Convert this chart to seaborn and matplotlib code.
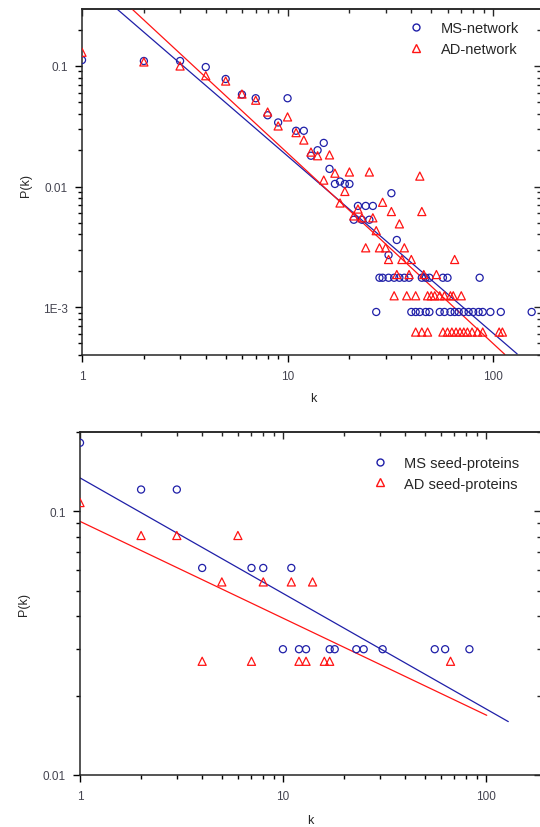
import matplotlib
matplotlib.use("Agg")
import matplotlib.pyplot as plt
import matplotlib.ticker as mticker
from matplotlib.lines import Line2D
import numpy as np
import seaborn as sns

# --- top panel: whole networks --------------------------------------------
ms_net_k = [1, 2, 3, 4, 5, 6, 7, 8, 9, 10, 11, 12, 13, 14, 15, 16, 17, 18, 19, 20,
            21, 22, 23, 24, 25, 26, 31, 32, 34,
            28, 29, 31, 33, 35, 37, 39, 45, 47, 49, 57, 60, 86,
            27, 40, 42, 44, 47, 49, 55, 58, 62, 65, 68, 72, 76, 80, 85, 89, 97, 109, 154]
ms_net_p = [0.112, 0.110, 0.110, 0.098, 0.078, 0.058, 0.054, 0.039, 0.034, 0.054,
            0.029, 0.029, 0.018, 0.020, 0.023, 0.014, 0.0105, 0.011, 0.0105, 0.0105,
            0.0053, 0.0069, 0.0053, 0.0069, 0.0053, 0.0069, 0.0027, 0.0088, 0.0036,
            0.00175, 0.00175, 0.00175, 0.00175, 0.00175, 0.00175, 0.00175, 0.00175,
            0.00175, 0.00175, 0.00175, 0.00175, 0.00175,
            0.00091, 0.00091, 0.00091, 0.00091, 0.00091, 0.00091, 0.00091, 0.00091,
            0.00091, 0.00091, 0.00091, 0.00091, 0.00091, 0.00091, 0.00091, 0.00091,
            0.00091, 0.00091, 0.00091]

ad_net_k = [1, 2, 3, 4, 5, 6, 7, 8, 9, 10, 11, 12, 13, 14, 15, 16, 17, 18, 19, 20,
            21, 22, 23, 25, 26, 27, 29, 32, 35, 44, 45,
            24, 28, 30, 37,
            31, 36, 40, 65,
            34, 39, 46, 53,
            33, 38, 42, 48, 50, 52, 55, 58, 62, 64, 70,
            42, 45, 48, 57, 60, 63, 66, 69, 72, 75, 79, 84, 89, 107, 111]
ad_net_p = [0.13, 0.108, 0.100, 0.083, 0.075, 0.0585, 0.052, 0.0415, 0.0318, 0.0378,
            0.028, 0.0243, 0.0193, 0.018, 0.0113, 0.0183, 0.0129, 0.0073, 0.0091, 0.0132,
            0.0057, 0.0065, 0.0055, 0.0132, 0.0055, 0.0043, 0.0074, 0.0062, 0.0049,
            0.0122, 0.0062,
            0.0031, 0.0031, 0.0031, 0.0031,
            0.00248, 0.00248, 0.00248, 0.00248,
            0.00186, 0.00186, 0.00186, 0.00186,
            0.00124, 0.00124, 0.00124, 0.00124, 0.00124, 0.00124, 0.00124, 0.00124,
            0.00124, 0.00124, 0.00124,
            0.00062, 0.00062, 0.00062, 0.00062, 0.00062, 0.00062, 0.00062, 0.00062,
            0.00062, 0.00062, 0.00062, 0.00062, 0.00062, 0.00062, 0.00062]

# power-law fits, log10(P) = a + b*log10(k), and the k span of each fit line
ms_net_fit = (-0.277, -1.47)
ad_net_fit = (-0.143, -1.58)
ms_net_span = (1, 131)
ad_net_span = (1, 114)

# --- bottom panel: seed proteins ------------------------------------------
ms_seed_k = [1, 2, 3, 4, 7, 8, 11, 10, 12, 13, 17, 18, 23, 25, 31, 56, 63, 83]
ms_seed_p = [0.182, 0.121, 0.121, 0.061, 0.061, 0.061, 0.061,
             0.030, 0.030, 0.030, 0.030, 0.030, 0.030, 0.030, 0.030, 0.030, 0.030, 0.030]

ad_seed_k = [1, 2, 3, 6, 5, 8, 11, 14, 4, 7, 12, 13, 16, 17, 67]
ad_seed_p = [0.108, 0.081, 0.081, 0.081, 0.054, 0.054, 0.054, 0.054,
             0.027, 0.027, 0.027, 0.027, 0.027, 0.027, 0.027]

ms_seed_fit = (-0.873, -0.438)
ad_seed_fit = (-1.038, -0.367)
ms_seed_span = (1, 129)
ad_seed_span = (1, 101)

x_labels = {1: "1", 10: "10", 100: "100"}
y_labels = {0.1: "0.1", 0.01: "0.01", 0.001: "1E-3"}

BLUE = "#1f1fa8"
RED = "#ff1414"
TICK_COLOR = "#444450"

sns.set_theme(style="ticks")
plt.rcParams["font.family"] = ["Liberation Sans", "DejaVu Sans"]
plt.rcParams["axes.linewidth"] = 1.1


def fmt(mapping):
    def f(v, pos):
        for key, lab in mapping.items():
            if np.isclose(v, key):
                return lab
        return ""
    return mticker.FuncFormatter(f)


def fit_line(ax, fit, span, color):
    a, b = fit
    kk = np.array(span, dtype=float)
    pp = 10 ** (a + b * np.log10(kk))
    sns.lineplot(x=kk, y=pp, ax=ax, color=color, lw=0.9, sort=False,
                 estimator=None)


def log_locators(axis):
    axis.set_major_locator(mticker.LogLocator(base=10, subs=(1.0,)))
    axis.set_minor_locator(mticker.LogLocator(base=10, subs=np.arange(2, 10)))
    axis.set_minor_formatter(mticker.NullFormatter())


def style_axes(ax, xlim, ylim):
    ax.set_xscale("log")
    ax.set_yscale("log")
    ax.set_xlim(*xlim)
    ax.set_ylim(*ylim)
    log_locators(ax.xaxis)
    log_locators(ax.yaxis)
    ax.xaxis.set_major_formatter(fmt(x_labels))
    ax.yaxis.set_major_formatter(fmt(y_labels))
    ax.tick_params(which="both", direction="out", top=False, right=False,
                   colors="black", labelcolor=TICK_COLOR, labelsize=8.5, width=1.0)
    ax.tick_params(which="major", length=5)
    ax.tick_params(which="minor", length=3)
    ax.tick_params(axis="x", pad=6)
    ax.tick_params(axis="y", pad=5)
    for side in ("top", "right"):
        ax.spines[side].set_visible(True)
    # inward ticks on the top and right frame
    sx = ax.secondary_xaxis("top")
    sx.tick_params(which="both", direction="in", labeltop=False, width=1.0)
    sx.tick_params(which="major", length=5)
    sx.tick_params(which="minor", length=3)
    log_locators(sx.xaxis)
    sy = ax.secondary_yaxis("right")
    sy.tick_params(which="both", direction="in", labelright=False, width=1.0)
    sy.tick_params(which="major", length=5)
    sy.tick_params(which="minor", length=3)
    log_locators(sy.yaxis)
    ax.set_xlabel("k", fontsize=9)
    ax.set_ylabel("P(k)", fontsize=9)


def add_legend(ax, labels, anchor):
    handles = [
        Line2D([], [], ls="", marker="o", ms=5, mfc="none", mec=BLUE, mew=1.0),
        Line2D([], [], ls="", marker="^", ms=5.5, mfc="none", mec=RED, mew=1.0),
    ]
    ax.legend(handles, labels, loc="upper left", bbox_to_anchor=anchor,
              frameon=False, fontsize=10.5, handlelength=1.0, handletextpad=1.2,
              labelspacing=0.45, borderaxespad=0, borderpad=0)


def draw_points(ax, k, p, marker, color, size):
    sns.scatterplot(x=k, y=p, ax=ax, marker=marker, s=size, color=color,
                    facecolor="none", edgecolor=color, linewidth=0.9, zorder=3)


fig = plt.figure(figsize=(5.4, 8.28), dpi=100)
W, H = 540.0, 828.0

ax1 = fig.add_axes([82 / W, 1 - 356 / H, 459 / W, 346 / H])
fit_line(ax1, ms_net_fit, ms_net_span, BLUE)
fit_line(ax1, ad_net_fit, ad_net_span, RED)
draw_points(ax1, ms_net_k, ms_net_p, "o", BLUE, 26)
draw_points(ax1, ad_net_k, ad_net_p, "^", RED, 34)
style_axes(ax1, (1, 171), (4e-4, 0.297))
ax1.xaxis.set_label_coords(0.503, -0.107)
ax1.yaxis.set_label_coords(-0.109, 0.494)
add_legend(ax1, ["MS-network", "AD-network"], (0.712, 0.965))

ax2 = fig.add_axes([80 / W, 1 - 776 / H, 461 / W, 343 / H])
fit_line(ax2, ms_seed_fit, ms_seed_span, BLUE)
fit_line(ax2, ad_seed_fit, ad_seed_span, RED)
draw_points(ax2, ms_seed_k, ms_seed_p, "o", BLUE, 26)
draw_points(ax2, ad_seed_k, ad_seed_p, "^", RED, 34)
style_axes(ax2, (1, 187), (0.01, 0.2))
ax2.xaxis.set_label_coords(0.50, -0.114)
ax2.yaxis.set_label_coords(-0.108, 0.5)
add_legend(ax2, ["MS seed-proteins", "AD seed-proteins"], (0.634, 0.93))

fig.savefig("out.png", dpi=100)
